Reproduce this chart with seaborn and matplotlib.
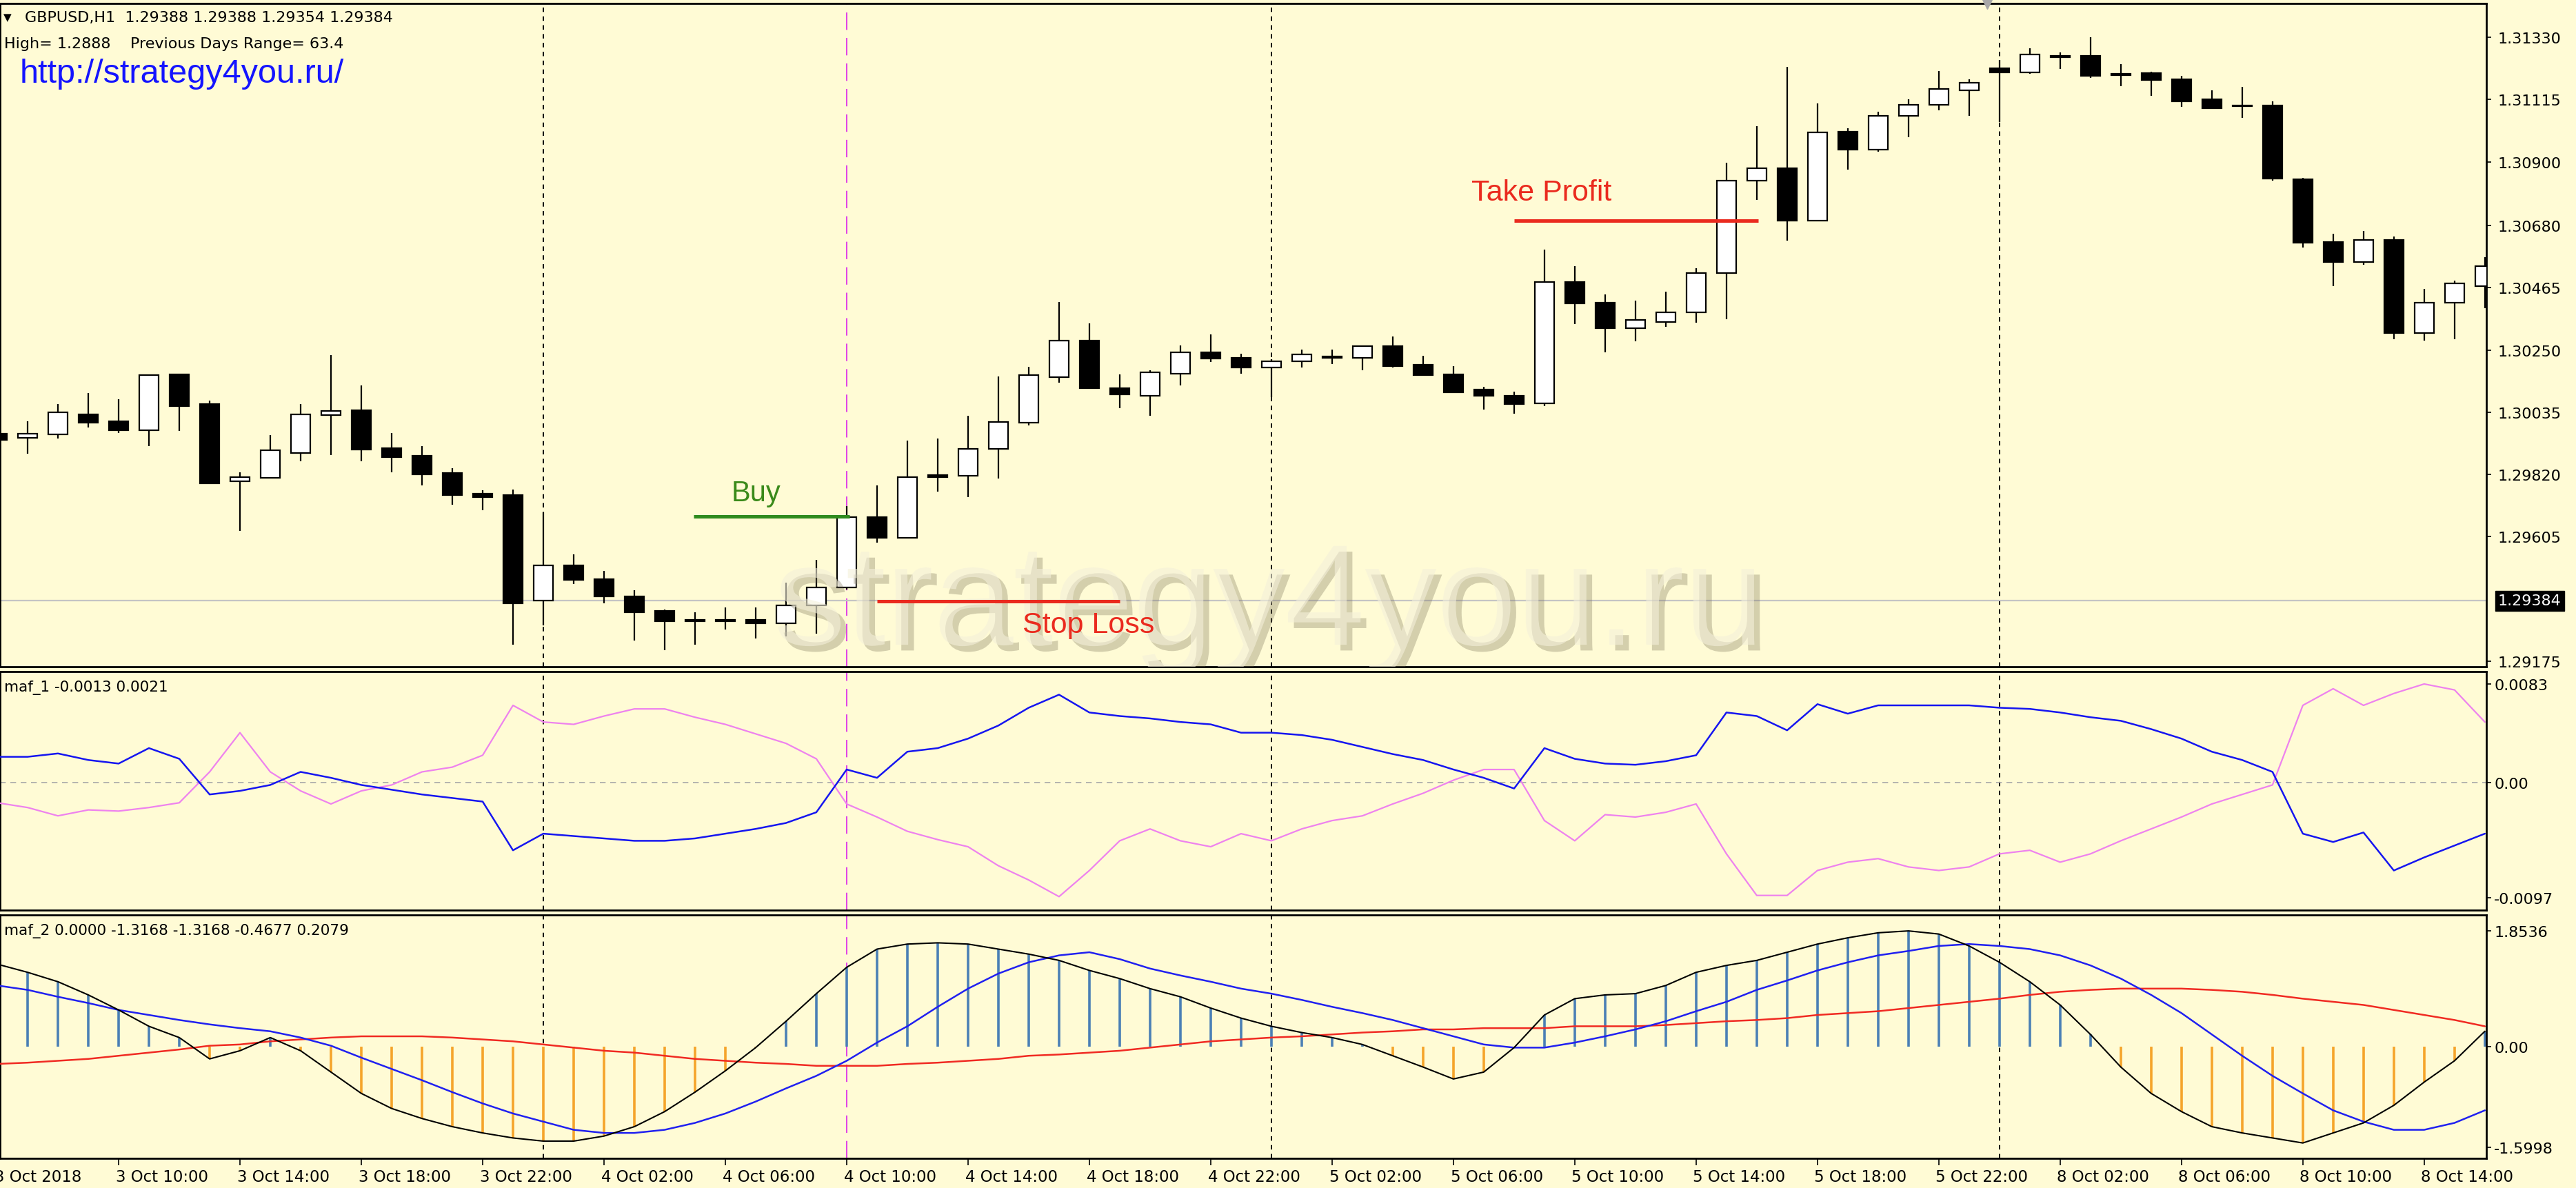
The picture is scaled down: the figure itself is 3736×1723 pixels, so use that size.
import matplotlib
matplotlib.use('Agg')
import matplotlib.pyplot as plt
import matplotlib.patheffects as pe
import matplotlib.transforms as mtransforms
import seaborn as sns
import pandas as pd
import numpy as np

# ---- data (bar 0 = 3 Oct 06:00) ----
tick_bars = [0, 4, 8, 12, 16, 20, 24, 28, 32, 36, 40, 44, 48, 52, 56, 60, 64, 68, 72, 76, 80]
tick_labels = ['3 Oct 2018', '3 Oct 10:00', '3 Oct 14:00', '3 Oct 18:00', '3 Oct 22:00',
               '4 Oct 02:00', '4 Oct 06:00', '4 Oct 10:00', '4 Oct 14:00', '4 Oct 18:00',
               '4 Oct 22:00', '5 Oct 02:00', '5 Oct 06:00', '5 Oct 10:00', '5 Oct 14:00',
               '5 Oct 18:00', '5 Oct 22:00', '8 Oct 02:00', '8 Oct 06:00', '8 Oct 10:00',
               '8 Oct 14:00']

opens = [1.29962, 1.29947, 1.29959, 1.30028, 1.30004, 1.29973, 1.30166, 1.30063, 1.29797, 1.29809,
         1.29895, 1.30026, 1.30041, 1.29911, 1.29885, 1.29826, 1.29754, 1.29748, 1.29384, 1.29505,
         1.29459, 1.29400, 1.29348, 1.29315, 1.29316, 1.29317, 1.29307, 1.29367, 1.29431, 1.29673,
         1.29601, 1.29818, 1.29816, 1.29909, 1.29998, 1.30156, 1.30282, 1.30119, 1.30091, 1.30169,
         1.30243, 1.30223, 1.30189, 1.30210, 1.30226, 1.30223, 1.30263, 1.30199, 1.30166, 1.30114,
         1.30093, 1.30065, 1.30485, 1.30414, 1.30325, 1.30346, 1.30380, 1.30516, 1.30836, 1.30878,
         1.30698, 1.31003, 1.30943, 1.31059, 1.31098, 1.31148, 1.31223, 1.31208, 1.31264, 1.31265,
         1.31202, 1.31206, 1.31185, 1.31115, 1.31093, 1.31094, 1.30839, 1.30623, 1.30553, 1.30630,
         1.30308, 1.30413, 1.30470]
highs = [1.29968, 1.30004, 1.30063, 1.30102, 1.30081, 1.30166, 1.30168, 1.30076, 1.29828, 1.29957,
         1.30063, 1.30233, 1.30128, 1.29964, 1.29919, 1.29841, 1.29766, 1.29768, 1.29689, 1.29544,
         1.29487, 1.29420, 1.29353, 1.29343, 1.29360, 1.29360, 1.29446, 1.29526, 1.29711, 1.29782,
         1.29937, 1.29944, 1.30022, 1.30158, 1.30191, 1.30415, 1.30342, 1.30166, 1.30179, 1.30265,
         1.30303, 1.30238, 1.30218, 1.30251, 1.30251, 1.30265, 1.30297, 1.30230, 1.30194, 1.30122,
         1.30106, 1.30597, 1.30540, 1.30442, 1.30421, 1.30452, 1.30532, 1.30898, 1.31022, 1.31227,
         1.31101, 1.31015, 1.31074, 1.31115, 1.31213, 1.31185, 1.31252, 1.31292, 1.31278, 1.31330,
         1.31237, 1.31211, 1.31198, 1.31146, 1.31160, 1.31108, 1.30844, 1.30651, 1.30662, 1.30641,
         1.30460, 1.30490, 1.30571]
lows = [1.29930, 1.29892, 1.29944, 1.29983, 1.29964, 1.29919, 1.29971, 1.29787, 1.29625, 1.29805,
        1.29866, 1.29887, 1.29866, 1.29828, 1.29782, 1.29716, 1.29696, 1.29232, 1.29300, 1.29441,
        1.29376, 1.29247, 1.29212, 1.29232, 1.29284, 1.29253, 1.29260, 1.29271, 1.29422, 1.29585,
        1.29598, 1.29761, 1.29743, 1.29807, 1.29990, 1.30136, 1.30115, 1.30048, 1.30024, 1.30128,
        1.30208, 1.30167, 1.30086, 1.30189, 1.30201, 1.30181, 1.30189, 1.30160, 1.30102, 1.30044,
        1.30031, 1.30057, 1.30339, 1.30241, 1.30280, 1.30330, 1.30344, 1.30356, 1.30769, 1.30628,
        1.30696, 1.30873, 1.30934, 1.30984, 1.31077, 1.31058, 1.31038, 1.31205, 1.31221, 1.31190,
        1.31162, 1.31129, 1.31089, 1.31083, 1.31051, 1.30834, 1.30605, 1.30470, 1.30545, 1.30287,
        1.30282, 1.30287, 1.30395]
closes = [1.29940, 1.29960, 1.30035, 1.29998, 1.29973, 1.30164, 1.30057, 1.29789, 1.29811, 1.29903,
          1.30027, 1.30039, 1.29906, 1.29880, 1.29821, 1.29749, 1.29743, 1.29376, 1.29505, 1.29456,
          1.29398, 1.29345, 1.29312, 1.29313, 1.29314, 1.29305, 1.29367, 1.29431, 1.29673, 1.29601,
          1.29811, 1.29811, 1.29909, 1.30002, 1.30164, 1.30282, 1.30117, 1.30097, 1.30172, 1.30243,
          1.30220, 1.30189, 1.30210, 1.30235, 1.30224, 1.30263, 1.30194, 1.30163, 1.30104, 1.30091,
          1.30063, 1.30485, 1.30411, 1.30325, 1.30354, 1.30380, 1.30516, 1.30836, 1.30878, 1.30698,
          1.31002, 1.30941, 1.31059, 1.31098, 1.31152, 1.31172, 1.31208, 1.31270, 1.31262, 1.31196,
          1.31200, 1.31182, 1.31110, 1.31085, 1.31091, 1.30841, 1.30621, 1.30553, 1.30630, 1.30308,
          1.30413, 1.30480, 1.30540]

# maf_1 window
maf1_blue = [0.00217, 0.00217, 0.00245, 0.00190, 0.00160, 0.00290, 0.00200, -0.00100, -0.00070, -0.00020,
             0.00090, 0.00040, -0.00020, -0.00060, -0.00100, -0.00130, -0.00160, -0.00570, -0.00430, -0.00450,
             -0.00470, -0.00490, -0.00490, -0.00470, -0.00430, -0.00390, -0.00340, -0.00250, 0.00110, 0.00040,
             0.00260, 0.00290, 0.00370, 0.00480, 0.00630, 0.00740, 0.00590, 0.00560, 0.00540, 0.00510,
             0.00490, 0.00420, 0.00420, 0.00400, 0.00360, 0.00300, 0.00240, 0.00190, 0.00110, 0.00040,
             -0.00050, 0.00290, 0.00200, 0.00160, 0.00150, 0.00180, 0.00230, 0.00590, 0.00560, 0.00440,
             0.00660, 0.00580, 0.00650, 0.00650, 0.00650, 0.00650, 0.00630, 0.00620, 0.00590, 0.00550,
             0.00520, 0.00450, 0.00370, 0.00260, 0.00190, 0.00090, -0.00430, -0.00500, -0.00420, -0.00740,
             -0.00630, -0.00530, -0.00430]
maf1_violet = [-0.00170, -0.00210, -0.00280, -0.00230, -0.00240, -0.00210, -0.00170, 0.00090, 0.00420, 0.00090,
               -0.00070, -0.00180, -0.00070, -0.00020, 0.00090, 0.00130, 0.00230, 0.00650, 0.00510, 0.00490,
               0.00560, 0.00620, 0.00620, 0.00550, 0.00490, 0.00410, 0.00330, 0.00200, -0.00180, -0.00290,
               -0.00410, -0.00480, -0.00540, -0.00700, -0.00820, -0.00960, -0.00740, -0.00490, -0.00390, -0.00490,
               -0.00540, -0.00430, -0.00490, -0.00390, -0.00320, -0.00280, -0.00180, -0.00090, 0.00020, 0.00110,
               0.00110, -0.00320, -0.00490, -0.00270, -0.00290, -0.00250, -0.00180, -0.00600, -0.00950, -0.00950,
               -0.00740, -0.00670, -0.00640, -0.00710, -0.00740, -0.00710, -0.00600, -0.00570, -0.00670, -0.00600,
               -0.00490, -0.00390, -0.00290, -0.00180, -0.00100, -0.00020, 0.00650, 0.00790, 0.00650, 0.00750,
               0.00830, 0.00780, 0.00510]

# maf_2 window
maf2_main = [1.32, 1.19, 1.04, 0.83, 0.59, 0.33, 0.15, -0.19, -0.06, 0.15,
             -0.06, -0.40, -0.74, -0.98, -1.14, -1.27, -1.37, -1.45, -1.50, -1.50,
             -1.42, -1.27, -1.03, -0.72, -0.38, -0.01, 0.41, 0.85, 1.27, 1.56,
             1.64, 1.66, 1.64, 1.56, 1.48, 1.38, 1.22, 1.09, 0.93, 0.80,
             0.62, 0.46, 0.33, 0.23, 0.15, 0.04, -0.14, -0.32, -0.51, -0.40,
             -0.01, 0.51, 0.77, 0.83, 0.85, 0.98, 1.19, 1.30, 1.38, 1.51,
             1.64, 1.74, 1.82, 1.85, 1.80, 1.61, 1.35, 1.04, 0.67, 0.20,
             -0.32, -0.74, -1.03, -1.27, -1.37, -1.45, -1.53, -1.37, -1.21, -0.93,
             -0.56, -0.22, 0.25]
maf2_signal = [0.98, 0.91, 0.80, 0.70, 0.59, 0.51, 0.43, 0.36, 0.30, 0.25,
               0.15, 0.02, -0.17, -0.35, -0.53, -0.72, -0.90, -1.06, -1.19, -1.32,
               -1.37, -1.37, -1.32, -1.21, -1.06, -0.87, -0.66, -0.46, -0.22, 0.07,
               0.33, 0.64, 0.93, 1.17, 1.35, 1.46, 1.51, 1.40, 1.25, 1.14,
               1.04, 0.93, 0.85, 0.75, 0.64, 0.54, 0.43, 0.30, 0.17, 0.04,
               -0.01, -0.01, 0.07, 0.17, 0.28, 0.41, 0.57, 0.72, 0.91, 1.06,
               1.22, 1.35, 1.46, 1.53, 1.61, 1.64, 1.61, 1.56, 1.46, 1.30,
               1.09, 0.83, 0.54, 0.20, -0.14, -0.46, -0.74, -1.01, -1.19, -1.32,
               -1.32, -1.21, -1.01]
maf2_slow = [-0.27, -0.25, -0.22, -0.19, -0.14, -0.09, -0.04, 0.02, 0.04, 0.09,
             0.12, 0.15, 0.17, 0.17, 0.17, 0.15, 0.12, 0.09, 0.04, -0.01,
             -0.06, -0.09, -0.14, -0.19, -0.22, -0.25, -0.27, -0.30, -0.30, -0.30,
             -0.27, -0.25, -0.22, -0.19, -0.14, -0.12, -0.09, -0.06, -0.01, 0.04,
             0.09, 0.12, 0.15, 0.17, 0.20, 0.23, 0.25, 0.28, 0.28, 0.30,
             0.30, 0.30, 0.33, 0.33, 0.33, 0.35, 0.38, 0.41, 0.43, 0.46,
             0.51, 0.54, 0.57, 0.62, 0.67, 0.72, 0.77, 0.83, 0.88, 0.91,
             0.93, 0.93, 0.93, 0.91, 0.88, 0.83, 0.77, 0.72, 0.67, 0.59,
             0.51, 0.43, 0.33]

price_ticks = [1.31330, 1.31115, 1.30900, 1.30680, 1.30465, 1.30250, 1.30035, 1.29820, 1.29605, 1.29175]
bid_price = 1.29384
buy_level = (22.95, 28.1, 1.29675)
stop_level = (29.0, 37.0, 1.29382)
take_level = (50.0, 58.05, 1.30697)
day_breaks = [18, 42, 66]
entry_bar = 28
shift_marker = 65.6

# ---- styling ----
sns.set_theme(style='white')
plt.rcParams['font.family'] = ['DejaVu Sans']
bg = '#FFFBD5'
W, H = 3736, 1724
fig = plt.figure(figsize=(W / 100, H / 100), dpi=100, facecolor=bg)


def panel(top, bottom, right=3606):
    return fig.add_axes([0, 1 - bottom / H, right / W, (bottom - top) / H])


ax1 = panel(6, 968)
ax2 = panel(975, 1321)
ax3 = panel(1328, 1681)
xlim = (0.09, 82.05)

for ax in (ax1, ax2, ax3):
    ax.set_facecolor(bg)
    ax.set_xlim(*xlim)
    for s in ax.spines.values():
        s.set_color('black')
        s.set_linewidth(2)
    ax.yaxis.tick_right()
    ax.tick_params(axis='y', direction='out', length=5, width=1.2, pad=7,
                   labelsize=16, colors='black', right=True, left=False)
    for b in day_breaks:
        ax.axvline(b, color='black', lw=1.4, ls=(0, (3.3, 3.3)), zorder=1)
    ax.axvline(entry_bar, color='#E040E8', lw=1.4, ls=(0, (13, 6)), zorder=1)

ax1.tick_params(axis='x', bottom=False, labelbottom=False)
ax2.tick_params(axis='x', bottom=False, labelbottom=False)

# ---- candles ----
idx = np.arange(len(opens))
o, h, l, c = map(np.array, (opens, highs, lows, closes))
up = c >= o
ax1.axhline(bid_price, color='#C4C4C4', lw=1.6, zorder=2)
ax1.vlines(idx, l, h, color='black', lw=1.6, zorder=3)
ax1.bar(idx, np.maximum(np.abs(c - o), 0.00004), bottom=np.minimum(o, c), width=0.64,
        color=np.where(up, 'white', 'black'), edgecolor='black', linewidth=1.6, zorder=4)
ax1.set_ylim(1.29156, 1.31447)
ax1.set_yticks(price_ticks, [f'{p:.5f}' for p in price_ticks])
ax1.plot([shift_marker], [1.31447], marker='v', ms=11, color='#A8A8A8', clip_on=False, zorder=8)

ax1.text(1 + 17 / 3606, bid_price, '1.29384', color='white', fontsize=16, va='center', ha='left',
         transform=mtransforms.blended_transform_factory(ax1.transAxes, ax1.transData),
         bbox=dict(boxstyle='square,pad=0.2', fc='black', ec='black'), clip_on=False)

# watermark (under the trade labels)
ax1.text(25.6, 1.29232, 'strategy4you.ru', fontsize=150, family='Liberation Sans',
         color='#F4F0DA', alpha=0.6, va='baseline', ha='left', zorder=6, clip_on=True,
         path_effects=[pe.SimplePatchShadow(offset=(6, -6), shadow_rgbFace='#7A7258', alpha=0.32),
                       pe.Normal()])

# trade levels
ax1.hlines(buy_level[2], buy_level[0], buy_level[1], color='#2E8B1E', lw=3.6, zorder=7)
ax1.hlines(stop_level[2], stop_level[0], stop_level[1], color='#EA2A1E', lw=3.6, zorder=7)
ax1.hlines(take_level[2], take_level[0], take_level[1], color='#EA2A1E', lw=3.6, zorder=7)
ax1.text(24.2, 1.29730, 'Buy', color='#3A8A1A', fontsize=30, family='Liberation Sans',
         va='baseline', ha='left', zorder=8)
ax1.text(33.8, 1.29275, 'Stop Loss', color='#EA2A1E', fontsize=31, family='Liberation Sans',
         va='baseline', ha='left', zorder=8)
ax1.text(48.6, 1.30769, 'Take Profit', color='#EA2A1E', fontsize=31, family='Liberation Sans',
         va='baseline', ha='left', zorder=8)

# ---- maf_1 ----
df1 = pd.DataFrame({'bar': idx, 'blue': maf1_blue, 'violet': maf1_violet})
ax2.axhline(0, color='#A8A8A8', lw=1.2, ls=(0, (5, 4)), zorder=1)
sns.lineplot(data=df1, x='bar', y='violet', ax=ax2, color='#EE82EE', lw=1.6, estimator=None, zorder=3)
sns.lineplot(data=df1, x='bar', y='blue', ax=ax2, color='#1515F0', lw=1.8, estimator=None, zorder=3)
ax2.set_ylim(-0.010737, 0.009344)
ax2.set_yticks([0.0083, 0.0, -0.0097], ['0.0083', '0.00', '-0.0097'])
ax2.tick_params(axis='y', pad=3)

# ---- maf_2 ----
df2 = pd.DataFrame({'bar': idx, 'main': maf2_main, 'signal': maf2_signal, 'slow': maf2_slow})
hist_col = np.where(df2['main'] >= 0, '#4A7FB5', '#F5A42A')
ax3.vlines(df2['bar'], 0, df2['main'], colors=hist_col, lw=2.6, zorder=2)
sns.lineplot(data=df2, x='bar', y='slow', ax=ax3, color='#F02A22', lw=1.8, estimator=None, zorder=3)
sns.lineplot(data=df2, x='bar', y='signal', ax=ax3, color='#2020F0', lw=1.8, estimator=None, zorder=3)
sns.lineplot(data=df2, x='bar', y='main', ax=ax3, color='black', lw=1.5, estimator=None, zorder=4)
ax3.set_ylim(-1.775, 2.104)
ax3.set_yticks([1.8536, 0.0, -1.5998], ['1.8536', '0.00', '-1.5998'])
ax3.tick_params(axis='y', pad=3)

for ax in (ax1, ax2, ax3):
    ax.set_xlim(*xlim)
    ax.set_xlabel('')
    ax.set_ylabel('')

ax3.set_xticks(tick_bars[1:], [''] * (len(tick_bars) - 1))
ax3.tick_params(axis='x', direction='out', length=7, width=1.2, bottom=True, colors='black')
xform = mtransforms.blended_transform_factory(ax3.transData, ax3.transAxes)
for b, lab in zip(tick_bars, tick_labels):
    ax3.text(b - 0.1, -27 / 353, lab, transform=xform, fontsize=16.5, ha='left', va='center',
             color='black', clip_on=False)

# ---- header texts ----
fig.text(5 / W, 1 - 26 / H, '\u25bc', fontsize=11, va='center', color='black')
fig.text(36 / W, 1 - 26 / H, 'GBPUSD,H1  1.29388 1.29388 1.29354 1.29384', fontsize=16,
         va='center', color='black')
fig.text(6 / W, 1 - 64 / H, 'High= 1.2888    Previous Days Range= 63.4', fontsize=16,
         va='center', color='black')
fig.text(29 / W, 1 - 107 / H, 'http://strategy4you.ru/', fontsize=35, family='Liberation Sans',
         va='center', color='#1414FF')
fig.text(6 / W, 1 - 998 / H, 'maf_1 -0.0013 0.0021', fontsize=15.5, va='center', color='black')
fig.text(6 / W, 1 - 1351 / H, 'maf_2 0.0000 -1.3168 -1.3168 -0.4677 0.2079', fontsize=15.5,
         va='center', color='black')

fig.savefig('out.png', dpi=100, facecolor=bg)
